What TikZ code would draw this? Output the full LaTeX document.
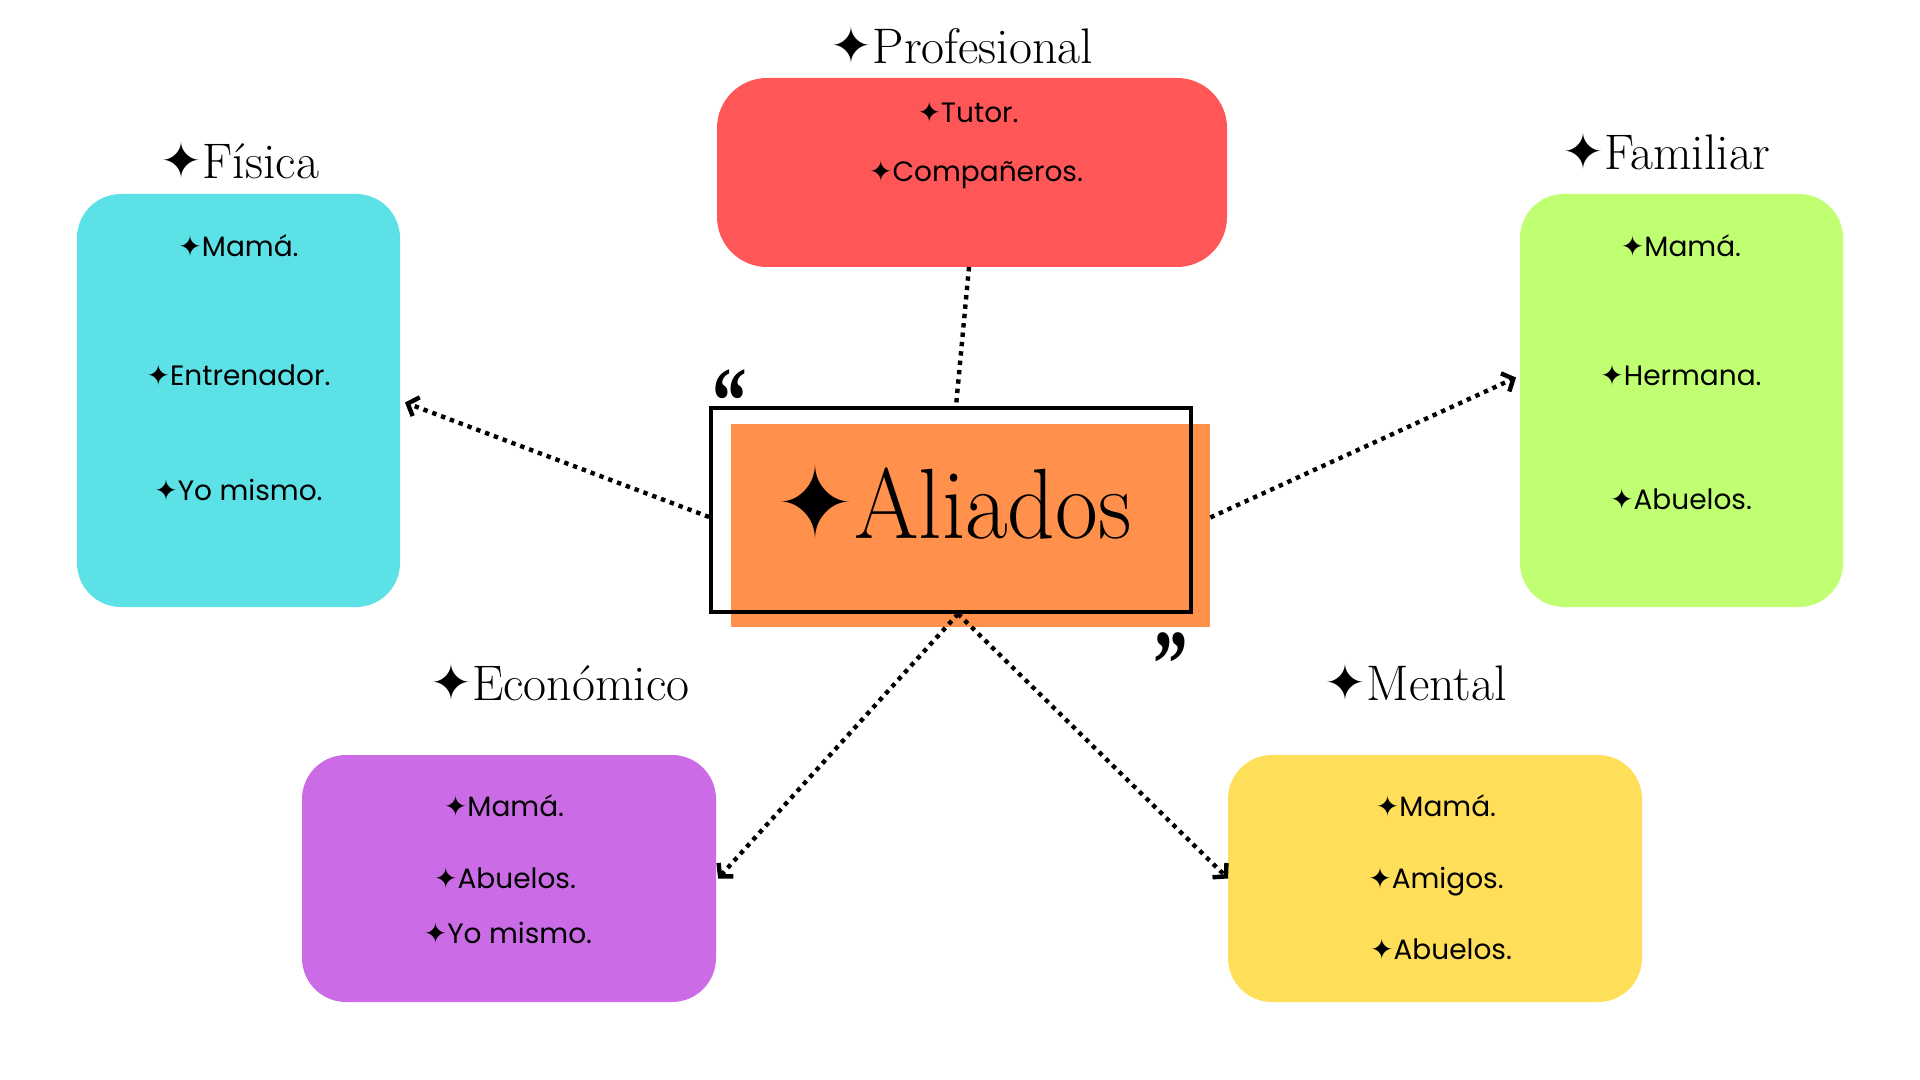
\documentclass[tikz,border=0pt]{standalone}
\usepackage{fontspec}
\usepackage{graphicx}
\usetikzlibrary{arrows.meta,calc}
\newfontfamily\itemfont{Poppins}
\newfontfamily\symfont{DejaVu Sans}
\newfontfamily\quotefont{Liberation Serif}
\newcommand\spark{{\symfont ✦}}
\definecolor{cfis}{HTML}{5CE1E6}
\definecolor{cprof}{HTML}{FF5757}
\definecolor{cfam}{HTML}{C1FF72}
\definecolor{ceco}{HTML}{CB6CE6}
\definecolor{cmen}{HTML}{FFDE59}
\definecolor{corg}{HTML}{FF914D}
\begin{document}
\begin{tikzpicture}[x=0.5pt,y=-0.5pt,
  catbox/.style={inner sep=0pt, outer sep=0pt, rounded corners=22pt},
  title/.style={inner sep=0pt, anchor=base, font=\fontsize{25pt}{29pt}\selectfont},
  entry/.style={inner sep=0pt, anchor=base, font=\itemfont\fontsize{14pt}{17pt}\selectfont},
  link/.style={line width=2.2pt, dash pattern=on 2.2pt off 2.5pt, black},
  linkarrow/.style={link, -{Straight Barb[length=4.5pt,width=10pt,line width=2.2pt]}},
  qmark/.style={inner sep=0pt, anchor=base west, font=\quotefont\bfseries\fontsize{48pt}{52pt}\selectfont}
]
\path[use as bounding box, fill=white] (0,0) rectangle (1920,1080);

% category boxes
\node[catbox, fill=cfis, minimum width=161.5pt, minimum height=206.5pt] (fis) at (238.5,400.5) {};
\node[catbox, fill=cprof, minimum width=255pt, minimum height=94.5pt, rounded corners=25pt] (prof) at (972,172.5) {};
\node[catbox, fill=cfam, minimum width=161.5pt, minimum height=206.5pt] (fam) at (1681.5,400.5) {};
\node[catbox, fill=ceco, minimum width=207pt, minimum height=123.5pt] (eco) at (509,878.5) {};
\node[catbox, fill=cmen, minimum width=207pt, minimum height=123.5pt] (men) at (1435,878.5) {};

% centre
\node[fill=corg, inner sep=0pt, minimum width=239.5pt, minimum height=101.5pt] (org) at (970.5,525.5) {};
\node[draw, line width=1.9pt, inner sep=0pt, minimum width=240pt, minimum height=102pt] (ctr) at (951,510) {};
\node[inner sep=0pt, anchor=base, font=\fontsize{50pt}{60pt}\selectfont] (ali) at (954,538) {\scalebox{0.93}[1]{\spark Aliados}};

% quote marks
\node[qmark] (qopen) at (712,433) {\scalebox{0.72}[1]{“}};
\node[qmark] (qclose) at (1153,696) {\scalebox{0.72}[1]{”}};

% titles
\node[title] (tfis) at (240,179) {\spark Física};
\node[title] (tprof) at (962,64) {\spark Profesional};
\node[title] (tfam) at (1666,170) {\spark Familiar};
\node[title] (teco) at (560,700) {\spark Económico};
\node[title] (tmen) at (1416,700) {\spark Mental};

% entries
\node[entry] (fis1) at (238.5,257) {\spark Mamá.};
\node[entry] (fis2) at (238.5,386) {\spark Entrenador.};
\node[entry] (fis3) at (238.5,500) {\spark Yo mismo.};
\node[entry] (prof1) at (968,123) {\spark Tutor.};
\node[entry] (prof2) at (976,182) {\spark Compañeros.};
\node[entry] (fam1) at (1681,257) {\spark Mamá.};
\node[entry] (fam2) at (1681,386) {\spark Hermana.};
\node[entry] (fam3) at (1681,509) {\spark Abuelos.};
\node[entry] (eco1) at (504,816) {\spark Mamá.};
\node[entry] (eco2) at (505,888) {\spark Abuelos.};
\node[entry] (eco3) at (508,943) {\spark Yo mismo.};
\node[entry] (men1) at (1436,816) {\spark Mamá.};
\node[entry] (men2) at (1436,888) {\spark Amigos.};
\node[entry] (men3) at (1441,959) {\spark Abuelos.};

% connectors
\draw[link] ($(prof.south)+(-3,0)$) -- ($(ctr.north)+(5,0)$);
\draw[linkarrow] ($(ctr.west)+(0,7)$) -- ($(fis.east)+(5,2)$);
\draw[linkarrow] ($(org.east)+(0,-8)$) -- ($(fam.west)+(-4,-23)$);
\draw[linkarrow] ($(ctr.south)+(7,0)$) -- ($(eco.east)+(2,0)$);
\draw[linkarrow] ($(ctr.south)+(7,0)$) -- (men.west);
\end{tikzpicture}
\end{document}
